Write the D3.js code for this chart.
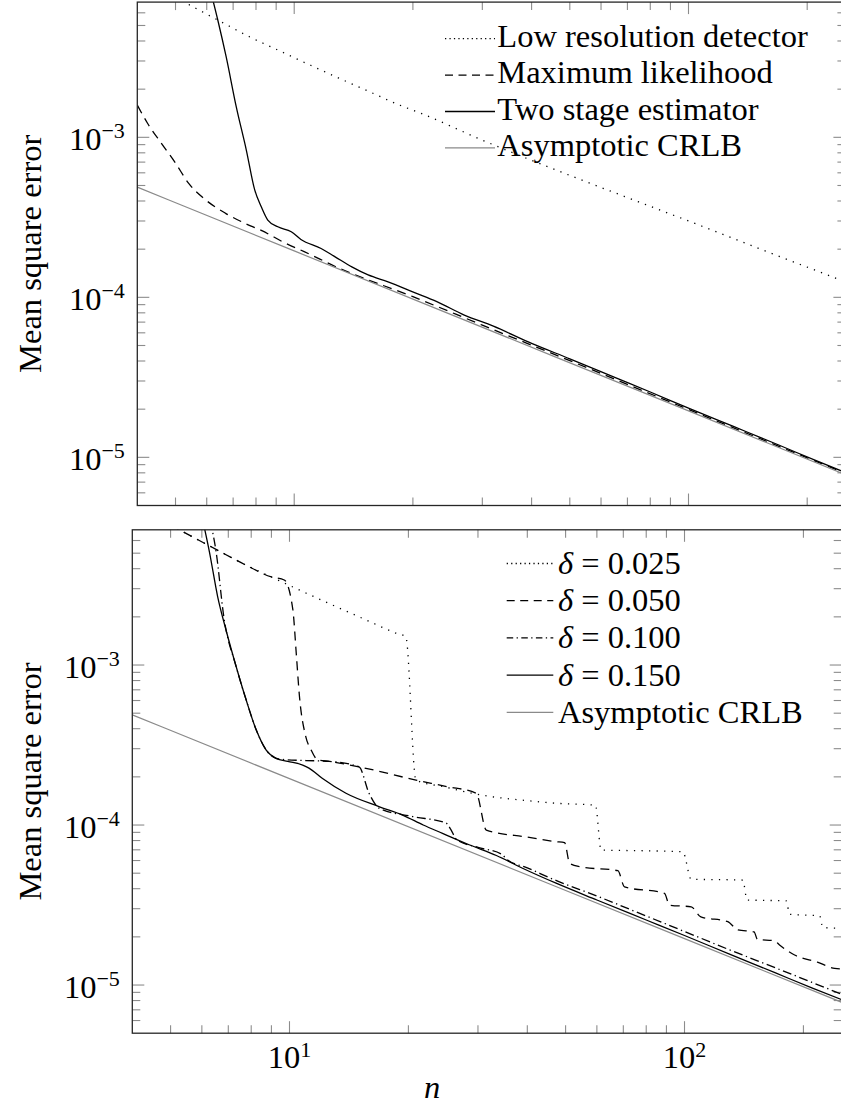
<!DOCTYPE html>
<html>
<head>
<meta charset="utf-8">
<script src="https://cdn.jsdelivr.net/npm/d3@7"></script>
<style>
  html, body { margin: 0; padding: 0; overflow: hidden; background: #fff; }
</style>
</head>
<body>
<svg id="chart" width="860" height="1110"></svg>
<script>
// Axis ranges and tick labels
const xDomain = [4, 250];
const yDomain = [5e-6, 7e-3];
const xMajorTicks = [10, 100];
const xMajorExp = ["1", "2"];
const yMajorTicks = [1e-5, 1e-4, 1e-3];
const yMajorExp = ["\u22125", "\u22124", "\u22123"];

// Asymptotic CRLB (both panels)
const nCrlb = [4, 10, 100, 250];
const crlb = [4.88e-4, 1.95e-4, 1.95e-5, 7.8e-6];

// Top panel
const nLowRes = [5, 5.5, 6.5, 7.7, 9, 11, 13, 15.5, 18.5, 21, 30, 45, 70, 100, 150, 250];
const lowRes = [7.5e-3, 6.6e-3, 5.3e-3, 4.25e-3, 3.55e-3, 2.82e-3, 2.34e-3, 1.93e-3, 1.59e-3, 1.41e-3, 9.6e-4, 6.4e-4, 4.2e-4, 3.0e-4, 2.03e-4, 1.25e-4];

const nMl = [4, 4.25, 4.6, 5, 5.4, 5.9, 6.7, 7.5, 8.25, 9.5, 10.6, 13, 20, 30, 50, 100, 250];
const ml = [1.59e-3, 1.22e-3, 9.2e-4, 6.9e-4, 5.15e-4, 4.15e-4, 3.35e-4, 2.9e-4, 2.62e-4, 2.18e-4, 1.93e-4, 1.52e-4, 1.01e-4, 6.7e-5, 4.02e-5, 1.99e-5, 7.95e-6];

const nTwoStage = [6.1, 6.4, 6.72, 7.13, 7.56, 7.94, 8.25, 8.57, 9.09, 9.83, 10.4, 11.7, 12.7, 14, 15.4, 17.3, 20.2, 23, 27, 32, 40, 50, 65, 80, 100, 130, 170, 210, 250];
const twoStage = [8.7e-3, 5.41e-3, 3.19e-3, 1.55e-3, 8.33e-4, 4.69e-4, 3.68e-4, 3.04e-4, 2.76e-4, 2.57e-4, 2.3e-4, 2.02e-4, 1.79e-4, 1.55e-4, 1.38e-4, 1.25e-4, 1.07e-4, 9.4e-5, 7.75e-5, 6.6e-5, 5.15e-5, 4.13e-5, 3.16e-5, 2.56e-5, 2.03e-5, 1.56e-5, 1.19e-5, 9.56e-6, 8.03e-6];

// Bottom panel
const nD025 = [5, 5.5, 6.5, 7.7, 9, 11, 13, 15.5, 18.5, 19.7, 20.9, 25, 29.7, 40, 47, 59.5, 61.5, 80, 99, 104, 120, 140.5, 144, 160, 181, 184.5, 200, 219.8, 224, 250];
const d025 = [7.5e-3, 6.6e-3, 5.3e-3, 4.25e-3, 3.55e-3, 2.82e-3, 2.34e-3, 1.93e-3, 1.59e-3, 1.5e-3, 1.91e-4, 1.72e-4, 1.56e-4, 1.42e-4, 1.37e-4, 1.33e-4, 6.98e-5, 6.9e-5, 6.81e-5, 4.58e-5, 4.56e-5, 4.53e-5, 3.4e-5, 3.38e-5, 3.36e-5, 2.77e-5, 2.74e-5, 2.71e-5, 2.29e-5, 2.26e-5];

const nD050 = [5, 5.5, 6.5, 7.7, 9, 9.7, 10.2, 10.4, 10.6, 11.0, 11.35, 11.8, 12.6, 15.0, 20.9, 25, 29.7, 31.5, 40, 47.3, 49.7, 51.2, 54.2, 67.8, 70.5, 89, 91.6, 104, 110, 128.7, 136.5, 150, 153, 169, 174, 190, 217, 240, 250];
const d050 = [7.5e-3, 6.6e-3, 5.3e-3, 4.25e-3, 3.55e-3, 3.4e-3, 2.21e-3, 1.19e-3, 6.34e-4, 3.56e-4, 2.94e-4, 2.55e-4, 2.5e-4, 2.31e-4, 1.91e-4, 1.74e-4, 1.58e-4, 9.3e-5, 8.4e-5, 7.87e-5, 7.75e-5, 5.77e-5, 5.49e-5, 5.18e-5, 4.11e-5, 3.74e-5, 3.16e-5, 3.08e-5, 2.67e-5, 2.49e-5, 2.21e-5, 2.15e-5, 1.93e-5, 1.89e-5, 1.78e-5, 1.54e-5, 1.39e-5, 1.27e-5, 1.26e-5];

const nD100 = [6.3, 6.52, 6.82, 7.33, 7.77, 8.24, 8.73, 9.25, 9.8, 11, 12.6, 15, 15.9, 16.9, 20.5, 24.9, 25.6, 26.5, 30, 34.5, 35.5, 40, 47, 60, 80, 100, 130, 170, 210, 250];
const d100 = [8.0e-3, 5.1e-3, 2.0e-3, 9.76e-4, 6.04e-4, 3.92e-4, 2.94e-4, 2.61e-4, 2.56e-4, 2.53e-4, 2.5e-4, 2.31e-4, 1.58e-4, 1.27e-4, 1.13e-4, 1.03e-4, 9.4e-5, 8.1e-5, 7.25e-5, 6.55e-5, 6.1e-5, 5.4e-5, 4.53e-5, 3.6e-5, 2.7e-5, 2.16e-5, 1.66e-5, 1.28e-5, 1.04e-5, 8.75e-6];

const nD150 = [6.02, 6.27, 6.58, 6.91, 7.33, 7.77, 8.24, 8.73, 9.25, 9.9, 10.8, 11.2, 12.1, 13.9, 16.9, 19.4, 21.8, 24.4, 28.6, 33.4, 38.9, 47.3, 60, 80, 100, 130, 170, 210, 250];
const d150 = [8.2e-3, 5.1e-3, 2.67e-3, 1.65e-3, 9.76e-4, 6.04e-4, 3.92e-4, 2.94e-4, 2.61e-4, 2.5e-4, 2.37e-4, 2.27e-4, 1.96e-4, 1.58e-4, 1.3e-4, 1.15e-4, 1.0e-4, 8.87e-5, 7.5e-5, 6.45e-5, 5.37e-5, 4.33e-5, 3.4e-5, 2.55e-5, 2.04e-5, 1.56e-5, 1.19e-5, 9.6e-6, 8.1e-6];

// line styles (pgfplots look)
const styles = {
  dotted:  { color: "#000", dash: "1.25,6.3", legendDash: "1.25,3.2" },
  dashed:  { color: "#000", dash: "9,6",      legendDash: "8,5.5" },
  dashdot: { color: "#000", dash: "9,3.6,1.3,3.6", legendDash: "6.5,3.4,1.3,3.4" },
  solid:   { color: "#000", dash: null,       legendDash: null },
  crlb:    { color: "#8a8a8a", dash: null,    legendDash: null }
};

const FONT = "Liberation Serif, DejaVu Serif, Noto Serif, FreeSerif, Nimbus Roman, Tinos, Times, serif";
const FS = 32.5;
const svg = d3.select("#chart").style("font-family", FONT);

const panels = [
  {
    id: "top", x0: 137.3, x1: 845.4, y0: 2.1, y1: 505.5, xLabels: false,
    series: [
      { n: nLowRes, v: lowRes, style: "dotted" },
      { n: nMl, v: ml, style: "dashed" },
      { n: nTwoStage, v: twoStage, style: "solid" },
      { n: nCrlb, v: crlb, style: "crlb" }
    ],
    legend: {
      lineX: [445, 495], textX: 497.3, base: 46.7, step: 36.4, off: 8,
      items: [
        { style: "dotted", label: "Low resolution detector" },
        { style: "dashed", label: "Maximum likelihood" },
        { style: "solid", label: "Two stage estimator" },
        { style: "crlb", label: "Asymptotic CRLB" }
      ]
    }
  },
  {
    id: "bottom", x0: 132.3, x1: 841.7, y0: 529.8, y1: 1033.2, xLabels: true,
    series: [
      { n: nD025, v: d025, style: "dotted" },
      { n: nD050, v: d050, style: "dashed" },
      { n: nD100, v: d100, style: "dashdot" },
      { n: nD150, v: d150, style: "solid" },
      { n: nCrlb, v: crlb, style: "crlb" }
    ],
    legend: {
      lineX: [506.7, 553.3], textX: 558, base: 574, step: 37.2, off: 10.5,
      items: [
        { style: "dotted", delta: "0.025" },
        { style: "dashed", delta: "0.050" },
        { style: "dashdot", delta: "0.100" },
        { style: "solid", delta: "0.150" },
        { style: "crlb", label: "Asymptotic CRLB" }
      ]
    }
  }
];

const isMajor = v => Math.abs(Math.log10(v) - Math.round(Math.log10(v))) < 1e-9;

panels.forEach(p => {
  const x = d3.scaleLog().domain(xDomain).range([p.x0, p.x1]);
  const y = d3.scaleLog().domain(yDomain).range([p.y1, p.y0]);
  const g = svg.append("g");

  g.append("clipPath").attr("id", "clip-" + p.id)
    .append("rect")
    .attr("x", p.x0).attr("y", p.y0)
    .attr("width", p.x1 - p.x0).attr("height", p.y1 - p.y0);

  // ticks, inward on all four sides
  const tickG = g.append("g").attr("stroke", "#8c8c8c").attr("stroke-width", 1.1);
  x.ticks().filter(v => v > xDomain[0] && v < xDomain[1]).forEach(v => {
    const len = isMajor(v) ? 12 : 8;
    const px = x(v);
    tickG.append("line").attr("x1", px).attr("x2", px).attr("y1", p.y1).attr("y2", p.y1 - len);
    tickG.append("line").attr("x1", px).attr("x2", px).attr("y1", p.y0).attr("y2", p.y0 + len);
  });
  y.ticks().filter(v => v > yDomain[0] * 1.0001 && v < yDomain[1] * 0.9999).forEach(v => {
    const len = isMajor(v) ? 12 : 8;
    const py = y(v);
    tickG.append("line").attr("y1", py).attr("y2", py).attr("x1", p.x0).attr("x2", p.x0 + len);
    tickG.append("line").attr("y1", py).attr("y2", py).attr("x1", p.x1).attr("x2", p.x1 - len);
  });

  // series
  const line = d3.line()
    .x(d => x(d[0]))
    .y(d => y(d[1]))
    .curve(d3.curveMonotoneX);
  const plotG = g.append("g").attr("clip-path", `url(#clip-${p.id})`);
  p.series.forEach(s => {
    const st = styles[s.style];
    plotG.append("path")
      .datum(s.n.map((n, i) => [n, s.v[i]]))
      .attr("d", line)
      .attr("fill", "none")
      .attr("stroke", st.color)
      .attr("stroke-width", s.style === "crlb" ? 1.2 : 1.3)
      .attr("stroke-dasharray", st.dash);
  });

  // frame
  g.append("rect")
    .attr("x", p.x0).attr("y", p.y0)
    .attr("width", p.x1 - p.x0).attr("height", p.y1 - p.y0)
    .attr("fill", "none").attr("stroke", "#262626").attr("stroke-width", 1.3);

  // y tick labels
  yMajorTicks.forEach((v, i) => {
    const t = g.append("text")
      .attr("x", p.x0 - 12.5).attr("y", y(v) + 13)
      .attr("text-anchor", "end")
      .style("font-family", FONT)
      .attr("font-size", FS);
    t.append("tspan").text("10");
    t.append("tspan").attr("font-size", 22).attr("dy", -12).text(yMajorExp[i]);
  });

  // x tick labels (bottom panel only)
  if (p.xLabels) {
    xMajorTicks.forEach((v, i) => {
      const t = g.append("text")
        .attr("x", x(v)).attr("y", 1068)
        .attr("text-anchor", "middle")
        .style("font-family", FONT)
        .attr("font-size", FS);
      t.append("tspan").text("10");
      t.append("tspan").attr("font-size", 22).attr("dy", -11).text(xMajorExp[i]);
    });
  }

  // y axis title
  const cy = (p.y0 + p.y1) / 2;
  g.append("text")
    .attr("transform", `translate(41,${cy}) rotate(-90)`)
    .attr("text-anchor", "middle")
    .style("font-family", FONT)
    .attr("font-size", FS)
    .text("Mean square error");

  // legend
  const L = p.legend;
  L.items.forEach((it, i) => {
    const base = L.base + i * L.step;
    const st = styles[it.style];
    g.append("line")
      .attr("x1", L.lineX[0]).attr("x2", L.lineX[1])
      .attr("y1", base - L.off).attr("y2", base - L.off)
      .attr("stroke", st.color)
      .attr("stroke-width", it.style === "crlb" ? 1.2 : 1.3)
      .attr("stroke-dasharray", st.legendDash);
    const t = g.append("text")
      .attr("x", L.textX).attr("y", base)
      .style("font-family", FONT)
      .attr("font-size", FS)
      .attr("xml:space", "preserve");
    if (it.delta) {
      t.append("tspan").attr("font-style", "italic").text("\u03b4");
      t.append("tspan").text(" = " + it.delta);
    } else {
      t.text(it.label);
    }
  });
});

// x axis title
svg.append("text")
  .attr("x", 432).attr("y", 1098)
  .attr("text-anchor", "middle")
  .style("font-family", FONT)
  .attr("font-size", FS)
  .attr("font-style", "italic")
  .text("n");
</script>
</body>
</html>
